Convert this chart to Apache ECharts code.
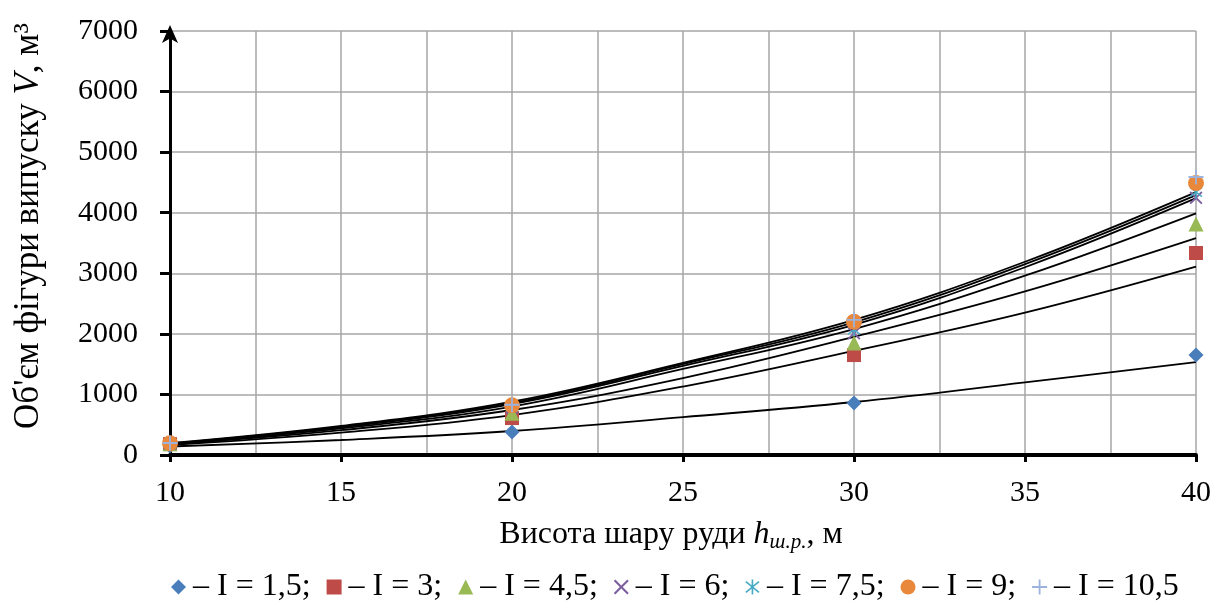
<!DOCTYPE html>
<html>
<head>
<meta charset="utf-8">
<script src="https://cdn.jsdelivr.net/npm/echarts@6/dist/echarts.min.js"></script>
<style>
html,body{margin:0;padding:0;background:#fff;}
#chart{width:1220px;height:606px;}
</style>
</head>
<body>
<div id="chart"></div>
<script>
// ---- data ----
const xValues = [10, 20, 30, 40];
const labelsI = ['1,5', '3', '4,5', '6', '7,5', '9', '10,5'];
const pointsI15 = [150, 380, 860, 1650];
const pointsI3 = [180, 610, 1650, 3335];
const pointsI45 = [185, 690, 1850, 3815];
const pointsI6 = [190, 780, 2010, 4245];
const pointsI75 = [192, 800, 2070, 4340];
const pointsI9 = [195, 820, 2200, 4490];
const pointsI105 = [198, 830, 2230, 4590];

// trend lines
const trendX = [10, 15, 20, 25, 30, 35, 40];
const trendI15 = [140, 248, 396, 625, 875, 1200, 1535];
const trendI3 = [165, 370, 660, 1130, 1720, 2350, 3110];
const trendI45 = [175, 410, 743, 1270, 1950, 2700, 3580];
const trendI6 = [180, 440, 800, 1420, 2080, 2960, 3990];
const trendI75 = [185, 460, 840, 1470, 2150, 3100, 4240];
const trendI9 = [190, 470, 860, 1500, 2190, 3150, 4290];
const trendI105 = [195, 480, 880, 1520, 2230, 3190, 4340];

const yTicks = [0, 1000, 2000, 3000, 4000, 5000, 6000, 7000];
const xTicks = [10, 15, 20, 25, 30, 35, 40];

const pointSets = [pointsI15, pointsI3, pointsI45, pointsI6, pointsI75, pointsI9, pointsI105];
const trendSets = [trendI15, trendI3, trendI45, trendI6, trendI75, trendI9, trendI105];

const colors = ['#4A7EBB', '#BE4B48', '#98B954', '#7D60A0', '#46AAC5', '#E9883A', '#9DB3DE'];
const symX = 'path://M1,0 L5,4 L9,0 L10,1 L6,5 L10,9 L9,10 L5,6 L1,10 L0,9 L4,5 L0,1 Z';
const symStar = 'path://M1,1 L5,4.4 L9,1 L9.7,1.8 L5.8,5 L9.7,8.2 L9,9 L5,5.6 L1,9 L0.3,8.2 L4.2,5 L0.3,1.8 Z M4.45,0 H5.55 V10 H4.45 Z';
const symPlus = 'path://M4.4,0 H5.6 V4.4 H10 V5.6 H5.6 V10 H4.4 V5.6 H0 V4.4 H4.4 Z';
const symbols = ['diamond', 'rect', 'triangle', symX, symStar, 'circle', symPlus];
const sizes = [15, 14, 15, 13, 13, 16, 15];

const FONT = '"Liberation Serif", "Times New Roman", serif';

const series = [];
trendSets.forEach(function (t, i) {
  series.push({
    type: 'line',
    name: 'trend' + i,
    data: trendX.map(function (x, k) { return [x, t[k]]; }),
    smooth: 0.4,
    symbol: 'none',
    silent: true,
    z: 2,
    lineStyle: { color: '#000', width: 1.8 }
  });
});
pointSets.forEach(function (p, i) {
  series.push({
    type: 'scatter',
    name: labelsI[i],
    data: xValues.map(function (x, k) { return [x, p[k]]; }),
    symbol: symbols[i],
    symbolSize: sizes[i],
    z: 5 + i,
    itemStyle: { color: colors[i], opacity: 1 }
  });
});

const chart = echarts.init(document.getElementById('chart'), null, { renderer: 'canvas' });
chart.setOption({
  backgroundColor: '#fff',
  animation: false,
  grid: { left: 170, right: 24, top: 31, bottom: 151, containLabel: false },
  legend: {
    data: labelsI.map(function (n, i) { return { name: n, icon: symbols[i] }; }),
    top: 566,
    left: 166,
    itemWidth: 15,
    itemHeight: 15,
    itemGap: 16,
    formatter: function (name) {
      return '– I = ' + name + (name === labelsI[labelsI.length - 1] ? '' : ';');
    },
    textStyle: { fontFamily: FONT, fontSize: 32, color: '#000', padding: [0, 0, 0, 2] }
  },
  xAxis: {
    type: 'value',
    min: xTicks[0],
    max: xTicks[xTicks.length - 1],
    interval: 5,
    name: '{t|Висота шару руди }{i|h}{s|ш.р.}{t|, м}',
    nameLocation: 'middle',
    nameGap: 60,
    nameTextStyle: {
      padding: [0, 24, 0, 0],
      rich: {
        t: { fontFamily: FONT, fontSize: 32, color: '#000', lineHeight: 36, verticalAlign: 'bottom' },
        i: { fontFamily: FONT, fontSize: 32, fontStyle: 'italic', color: '#000', lineHeight: 36, verticalAlign: 'bottom' },
        s: { fontFamily: FONT, fontSize: 21, fontStyle: 'italic', color: '#000', lineHeight: 36, verticalAlign: 'bottom', padding: [0, 0, -2, 0] }
      }
    },
    axisLine: { show: true, onZero: false, lineStyle: { color: '#000', width: 4 } },
    axisTick: { show: true, length: 7, lineStyle: { color: '#000', width: 3 } },
    axisLabel: { margin: 23, fontFamily: FONT, fontSize: 30, color: '#000' },
    splitLine: { show: true, lineStyle: { color: '#A6A6A6', width: 1.5 } },
    minorTick: { show: false, splitNumber: 2 },
    minorSplitLine: { show: true, lineStyle: { color: '#A6A6A6', width: 1.5 } }
  },
  yAxis: {
    type: 'value',
    min: yTicks[0],
    max: yTicks[yTicks.length - 1],
    interval: 1000,
    name: '{t|Об\'єм фігури випуску }{i|V}{t|, м³}',
    nameLocation: 'middle',
    nameGap: 124,
    nameRotate: 90,
    nameTextStyle: {
      padding: [0, 0, 0, 34],
      rich: {
        t: { fontFamily: FONT, fontSize: 35, color: '#000' },
        i: { fontFamily: FONT, fontSize: 35, fontStyle: 'italic', color: '#000' }
      }
    },
    axisLine: {
      show: true, onZero: false,
      symbol: ['none', 'arrow'], symbolSize: [12, 18], symbolOffset: [0, 6],
      lineStyle: { color: '#000', width: 3 }
    },
    axisTick: { show: true, length: 10, lineStyle: { color: '#000', width: 3 } },
    axisLabel: {
      margin: 32, fontFamily: FONT, fontSize: 30, color: '#000',
      formatter: function (v) { return String(v); }
    },
    splitLine: { show: true, lineStyle: { color: '#A6A6A6', width: 1.5 } }
  },
  series: series
});
</script>
</body>
</html>
